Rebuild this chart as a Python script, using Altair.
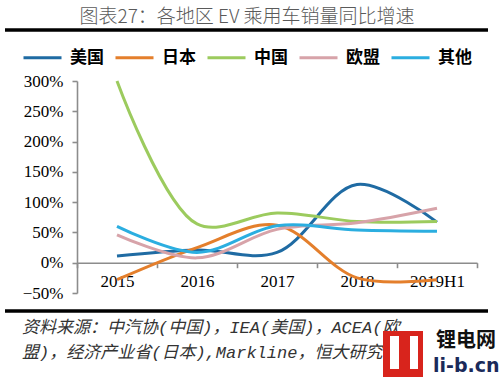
import altair as alt
import pandas as pd

years = ["2015", "2016", "2017", "2018", "2019H1"]
regions = ["美国", "日本", "中国", "欧盟", "其他"]
colors = ["#1F6BA3", "#E47F2C", "#9CCB5E", "#D7A3A9", "#2BAEE0"]
us = [11, 21, 17, 129, 67]
japan = [-28, 25, 62, -25, -28]
china = [300, 64, 82, 68, 68]
eu = [46, 8, 55, 66, 90]
other = [60, 17, 61, 54, 52]

series = dict(zip(regions, [us, japan, china, eu, other]))
rows = []
for r in regions:
    for y, v in zip(years, series[r]):
        rows.append({"year": y, "region": r, "value": v / 100})
df = pd.DataFrame(rows)

W, H = 400, 212
serif = "Liberation Serif"
cjk = "Noto Sans CJK SC"
mono = "Liberation Mono, Noto Sans CJK SC"

lines = alt.Chart(df).mark_line(
    interpolate="catmull-rom", strokeWidth=3, clip=False
).encode(
    x=alt.X("year:N", sort=years, bandPosition=0.5,
            scale=alt.Scale(type="band", paddingInner=0, paddingOuter=0),
            axis=alt.Axis(title=None, offset=-H * 50 / 350, tickBand="extent",
                          domainColor="#8C8C8C", domainWidth=1.6,
                          tickColor="#8C8C8C", tickWidth=1.6, tickSize=5,
                          labelFont=serif, labelFontSize=17, labelColor="#000",
                          labelPadding=6, labelAngle=0)),
    y=alt.Y("value:Q",
            scale=alt.Scale(domain=[-0.5, 3.0], nice=False, zero=False),
            axis=alt.Axis(title=None, format=".0%", values=[-0.5, 0, 0.5, 1, 1.5, 2, 2.5, 3],
                          grid=False, domainColor="#8C8C8C", domainWidth=1.6,
                          tickColor="#8C8C8C", tickWidth=1.6, tickSize=5,
                          labelFont=serif, labelFontSize=17, labelColor="#000",
                          labelPadding=9)),
    color=alt.Color("region:N", sort=regions,
                    scale=alt.Scale(domain=regions, range=colors),
                    legend=alt.Legend(title=None, orient="none", legendX=-55, legendY=-44,
                                      direction="horizontal", columns=5,
                                      symbolType="stroke", symbolSize=1444,
                                      symbolStrokeWidth=3, labelFont=cjk,
                                      labelFontWeight="bold", labelFontSize=17,
                                      labelColor="#000", labelOffset=7,
                                      columnPadding=5)),
    order=alt.Order("region:N"),
)

one = alt.Data(values=[{"a": 1}])

title = alt.Chart(one).mark_text(
    text="图表27：各地区 EV 乘用车销量同比增速", font=cjk, fontSize=19,
    fontWeight=300, color="#5A5A5A", align="center", baseline="middle"
).encode(x=alt.value(170), y=alt.value(-64))

top_rule = alt.Chart(one).mark_rule(color="#000", strokeWidth=3.5).encode(
    x=alt.value(-72), x2=alt.value(411), y=alt.value(-51))
bot_rule = alt.Chart(one).mark_rule(color="#000", strokeWidth=3.5).encode(
    x=alt.value(-72), x2=alt.value(411), y=alt.value(230))

src1 = alt.Chart(one).mark_text(
    text="资料来源：中汽协(中国)，IEA(美国)，ACEA(欧", font=mono, fontSize=17,
    fontStyle="italic", color="#333333", align="left", baseline="middle"
).encode(x=alt.value(-55), y=alt.value(247))
src2 = alt.Chart(one).mark_text(
    text="盟)，经济产业省(日本),Markline，恒大研究院", font=mono, fontSize=17,
    fontStyle="italic", color="#333333", align="left", baseline="middle"
).encode(x=alt.value(-55), y=alt.value(272))

logo_box = alt.Chart(one).mark_rect(color="#D8241C").encode(
    x=alt.value(306), x2=alt.value(346), y=alt.value(250), y2=alt.value(296))
logo_bar1 = alt.Chart(one).mark_rect(color="#FFFFFF").encode(
    x=alt.value(313), x2=alt.value(322), y=alt.value(255), y2=alt.value(288))
logo_bar2 = alt.Chart(one).mark_rect(color="#FFFFFF").encode(
    x=alt.value(333), x2=alt.value(341), y=alt.value(255), y2=alt.value(288))
logo_t1 = alt.Chart(one).mark_text(
    text="锂电网", font=cjk, fontSize=20, fontWeight="bold", color="#111111",
    align="left", baseline="middle").encode(x=alt.value(359), y=alt.value(260))
logo_t2 = alt.Chart(one).mark_text(
    text="li-b.cn", font="DejaVu Sans", fontSize=19, fontWeight="bold", color="#1A2A5A",
    align="left", baseline="middle").encode(x=alt.value(356), y=alt.value(285))

chart = alt.layer(
    lines, title, top_rule, bot_rule, src1, src2,
    logo_box, logo_bar1, logo_bar2, logo_t1, logo_t2
).properties(
    width=W, height=H,
    autosize=alt.AutoSizeParams(type="none"),
    padding={"left": 77, "top": 81, "right": 23, "bottom": 84},
    background="white",
).configure_view(stroke=None)

chart.save("out.html", embed_options={"renderer": "svg", "actions": False})
